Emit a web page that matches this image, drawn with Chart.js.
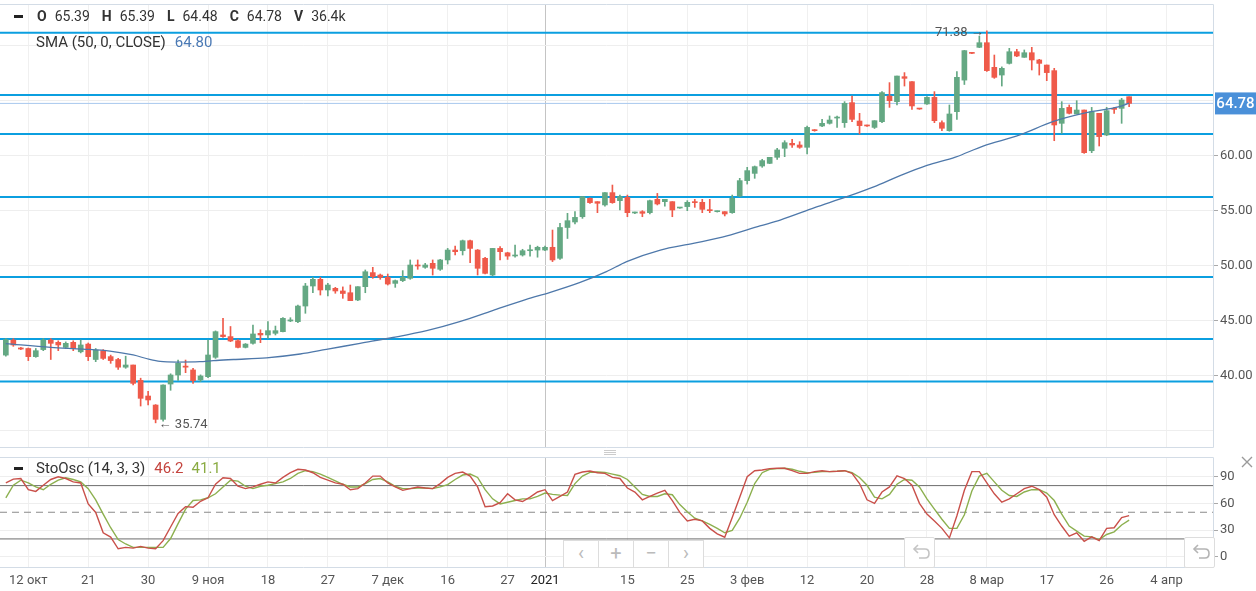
<!DOCTYPE html>
<html>
<head>
<meta charset="utf-8">
<script src="https://cdn.jsdelivr.net/npm/chart.js@4.4.0/dist/chart.umd.min.js"></script>
<style>
body { margin: 0; background: #fff; font-family: Roboto, sans-serif; overflow: hidden; }
#wrap { position: relative; width: 1256px; height: 591px; }
canvas { position: absolute; left: 0; }
#main { top: 0; }
#osc { top: 450px; }
.leg { position: absolute; color: #333; font-size: 15px; white-space: nowrap; z-index: 5; }
.hdr { font-size: 14px; }
.hdr b { font-weight: 700; margin-right: 8px; }
.hdr span.v { margin-right: 12px; }
.dash { position: absolute; width: 9px; height: 3px; background: #222; z-index: 5; }
.nav { position: absolute; left: 563px; top: 540px; width: 139px; height: 26px; border: 1px solid #ddd; background: #fff; display: flex; z-index: 5; }
.nav div { flex: 1; border-left: 1px solid #ddd; color: #bbb; font-size: 20px; text-align: center; line-height: 25px; }
.nav div:first-child { border-left: none; }
.undo { position: absolute; width: 29px; height: 29px; border: 1px solid #ddd; background: #fff; z-index: 5; border-radius: 2px; }
.handle { position: absolute; left: 604px; width: 12px; height: 1px; background: #ccc; z-index: 5; }
</style>
</head>
<body>
<div id="wrap">
  <canvas id="main" width="1256" height="450"></canvas>
  <canvas id="osc" width="1256" height="141"></canvas>

  <div class="dash" style="left:14px;top:15px"></div>
  <div class="leg hdr" style="left:37px;top:8px">
    <b>O</b><span class="v">65.39</span><b>H</b><span class="v">65.39</span><b>L</b><span class="v">64.48</span><b>C</b><span class="v">64.78</span><b>V</b><span>36.4k</span>
  </div>
  <div class="leg" style="left:36px;top:33px">SMA (50, 0, CLOSE)<span style="color:#4a79b4;margin-left:9px">64.80</span></div>

  <div class="dash" style="left:14px;top:467px"></div>
  <div class="leg" style="left:36px;top:459px">StoOsc (14, 3, 3)<span style="color:#c4443e;margin-left:9px">46.2</span><span style="color:#8aab42;margin-left:8px">41.1</span></div>

  <div class="handle" style="top:450px"></div>
  <div class="handle" style="top:452px"></div>
  <div class="handle" style="top:454px"></div>

  <svg style="position:absolute;left:1240px;top:455px;z-index:5" width="14" height="14"><path d="M2 2 L12 12 M12 2 L2 12" stroke="#9a9a9a" stroke-width="1.4"/></svg>

  <div class="nav"><div>&#8249;</div><div>+</div><div>&#8722;</div><div>&#8250;</div></div>
  <div class="undo" style="left:904px;top:537px"><svg width="29" height="29"><path d="M10 11 L20 11 Q24 11 24 15.5 Q24 20 20 20 L14 20" fill="none" stroke="#c4c4c4" stroke-width="1.6"/><path d="M13 7 L9 11 L13 15" fill="none" stroke="#c4c4c4" stroke-width="1.6"/></svg></div>
  <div class="undo" style="left:1184px;top:537px"><svg width="29" height="29"><path d="M10 11 L20 11 Q24 11 24 15.5 Q24 20 20 20 L14 20" fill="none" stroke="#b4b4b4" stroke-width="1.6"/><path d="M13 7 L9 11 L13 15" fill="none" stroke="#b4b4b4" stroke-width="1.6"/></svg></div>
</div>

<script>
// свечи: O, H, L, C по дням (индекс = номер торгового дня)
var opens = [41.9,43.27,42.55,42.5,41.76,42.4,43.27,43.06,42.6,43.06,42.2,42.9,41.5,42.3,41.76,41.5,40.8,41.0,39.6,38.18,
  37.36,36.06,39.27,40.09,40.9,40.55,39.64,39.94,41.7,43.73,43.58,43.21,42.6,42.97,43.88,43.73,43.88,44.03,45.0,44.94,
  46.36,48.18,48.79,47.82,47.97,47.73,47.57,46.91,48.12,49.4,49.18,48.97,48.42,48.67,48.88,50.09,49.88,50.24,49.7,50.55,
  51.45,51.39,52.3,51.45,50.7,49.18,51.6,51.2,50.91,51.0,51.39,51.45,51.45,51.7,50.7,53.5,54.0,54.48,56.15,55.85,
  55.55,56.67,55.94,56.24,54.82,54.94,54.85,56.06,55.85,55.85,55.27,55.4,55.85,55.79,55.09,54.94,54.94,54.85,56.36,57.76,
  58.42,59.09,59.33,59.88,60.7,61.15,61.0,60.79,62.36,62.73,62.97,63.45,63.03,64.85,63.18,62.79,62.6,63.12,65.45,64.94,
  67.21,66.76,64.3,64.73,65.33,63.03,62.3,64.03,66.9,69.36,69.88,70.3,68.06,67.36,68.42,69.48,68.97,69.39,68.73,68.27,
  67.76,62.97,64.42,63.82,64.18,60.48,63.88,61.91,64.33,64.33,65.39];
var highs = [43.4,43.4,42.6,42.55,42.5,43.4,43.4,43.2,43.1,43.2,43.27,43.0,42.5,42.4,41.9,41.6,41.8,41.0,39.8,38.6,
  37.4,39.2,40.2,41.45,41.45,40.7,40.1,43.27,44.1,45.24,44.5,43.3,42.95,44.64,44.2,44.94,44.54,45.3,45.3,46.45,
  48.42,48.97,48.97,48.42,48.06,48.1,48.27,48.12,49.64,49.88,49.27,49.27,48.73,49.58,50.55,50.55,50.24,50.55,50.6,51.6,
  51.8,52.36,52.36,51.5,50.79,51.6,51.76,51.25,51.9,51.52,51.9,51.8,51.8,53.27,53.88,54.79,54.94,56.3,56.2,55.85,
  56.67,57.36,56.45,56.45,54.9,55.03,56.0,56.6,56.06,55.85,55.33,55.94,56.06,56.06,56.06,55.0,54.94,56.45,57.97,58.97,
  59.09,59.7,59.88,60.7,61.39,61.52,61.3,62.73,62.4,63.33,63.64,63.64,64.94,65.45,63.88,62.82,63.21,65.85,66.67,67.27,
  67.58,66.76,64.3,65.4,65.85,63.2,64.64,67.67,69.6,69.4,70.9,71.38,69.18,68.1,69.79,69.7,69.64,69.88,68.79,68.27,
  67.97,64.94,64.64,65.03,64.18,64.42,63.88,64.42,64.42,65.24,65.39];
var lows = [41.8,42.7,42.4,41.4,41.7,42.3,41.5,42.3,42.5,42.3,42.1,41.4,41.3,41.5,41.15,40.6,40.7,39.2,37.27,37.36,
  35.74,35.9,38.7,39.6,40.3,39.33,39.5,39.85,41.6,43.5,43.12,42.55,42.55,42.9,43.03,43.42,43.73,44.0,44.94,44.85,
  45.7,47.57,47.36,47.27,47.52,47.06,46.85,46.85,47.57,48.88,48.79,48.27,48.06,48.58,48.79,49.7,49.79,49.18,49.6,50.18,
  51.0,51.0,50.3,49.18,49.27,49.1,50.55,50.6,50.8,50.9,50.9,50.8,51.4,50.4,50.6,52.5,53.82,54.33,55.7,54.85,
  55.45,55.7,55.09,54.48,54.75,54.48,54.73,55.55,55.45,54.48,55.24,55.03,55.33,54.85,54.85,54.9,54.55,54.79,56.3,57.45,
  57.97,58.97,59.3,59.7,59.94,60.79,60.7,60.18,62.25,62.67,62.9,62.6,62.6,63.12,62.0,62.7,62.5,63.03,64.42,64.64,
  66.36,64.24,64.24,64.7,63.03,62.3,62.25,63.33,66.5,69.3,69.85,67.7,67.06,66.36,68.36,69.03,68.97,67.82,67.36,66.85,
  61.39,62.06,63.82,63.82,60.24,60.3,60.91,61.85,63.88,62.97,64.48];
var closes = [43.3,42.82,42.45,41.76,42.3,43.27,42.97,42.82,42.97,42.5,42.82,41.76,42.36,41.6,41.4,40.8,41.0,39.33,37.97,37.82,
  36.06,39.18,40.09,41.15,40.8,39.58,40.0,41.91,44.03,43.58,43.18,42.6,42.9,43.82,43.73,44.12,44.12,45.24,45.1,46.36,
  48.18,48.79,47.82,48.27,47.73,47.5,46.85,48.12,49.48,49.03,48.97,48.36,48.67,48.97,50.09,50.0,50.09,49.79,50.55,51.45,
  51.3,52.3,51.6,49.79,49.33,51.6,51.3,50.9,51.0,51.39,51.45,51.7,51.7,50.55,53.5,54.12,54.42,56.3,55.76,55.7,
  56.67,55.76,56.3,54.85,54.85,54.79,55.94,55.64,56.06,55.09,55.3,55.79,55.76,55.15,55.03,54.97,54.73,56.15,57.76,58.67,
  59.03,59.58,59.88,60.55,61.21,61.0,60.79,62.6,62.3,62.97,63.27,63.5,64.79,63.33,62.76,62.73,63.21,65.76,65.03,67.27,
  67.06,64.55,64.27,65.33,63.21,62.52,63.82,67.15,69.58,69.33,70.3,67.76,67.15,67.97,69.48,69.09,69.39,68.73,68.42,67.58,
  62.82,64.33,63.88,64.18,60.3,64.03,61.76,64.12,64.24,65.09,64.78];

// SMA(50) — точки
var smaIdx = [0,6,10.3,13.9,17,19.2,20.6,22.8,25.9,27.7,30.4,34.8,39.3,42.8,47.3,51.7,56.2,60.6,65,69.5,72.6,76.6,80.2,82.9,87.4,91.8,96.3,100.7,103.4,108,112.3,115.9,119.5,123,126.8,130.5,135.4,139.8,144.3,148.7,150];
var smaVal = [42.95,42.6,42.45,42.27,41.91,41.51,41.33,41.27,41.3,41.4,41.5,41.65,42.0,42.42,42.97,43.5,44.12,44.94,45.95,46.97,47.58,48.48,49.48,50.4,51.45,52.06,52.73,53.64,54.18,55.3,56.3,57.2,58.24,59.15,59.9,60.9,61.91,63.12,63.94,64.48,64.8];

// Стохастик %K и %D
var stochK = [83,87.3,88,75.4,73.5,80.4,86.9,90,88,84.2,83,59.4,49.8,26.9,22,8.9,10.5,9.7,11.6,9.7,
  8.9,18.1,33.4,48.7,56.3,55.6,62.4,66.3,81.5,88.8,88,79.3,76.6,78.5,81.5,84.2,83,89.2,94.5,98.4,
  97.6,94.5,89.2,86.1,83,81.5,75.4,76.6,83,90.7,90.7,83,78.5,74.7,76.6,78.5,77.3,76.6,82.3,89.2,
  93.8,95.3,90.7,78.5,56.3,57.1,60.9,70.8,64,62.1,67,72.8,75.4,63.2,67.8,72.8,92.6,95.3,96.5,94.5,
  93.8,89.2,88,77.3,72.8,64,67.8,71.6,74.7,63.2,49.8,40.3,42.2,40.3,31.9,25.7,21.9,44,67,90,
  96.8,97.6,99.1,99.5,99.5,96.8,93.8,93.8,95.7,96.8,95.7,96.1,96.8,93.8,82.3,64,60.1,72.8,78.5,91.1,
  88,80.4,60.1,47.9,40.3,31.9,21.2,46,74.7,95.7,95.7,83,70.8,61.3,65.1,70.8,76.6,79.3,75.4,67,
  47.2,34.5,23.1,26.9,17.3,22.3,18.1,31.9,32.6,44.1,46.2];
var stochD = [66.3,80.4,86.1,83,78.5,75.4,81.5,86.1,88.8,86.9,84.2,76.6,64,47.9,32.6,19.3,14.3,10.5,10.5,10.5,
  10.5,10.5,20.4,37.2,53.6,63.2,64,66.3,70.8,78.5,86.1,85,79.3,76.6,79.3,80.4,82.3,84.2,88,93.8,
  96.8,95.7,93,89.2,85.4,81.5,78.5,78.5,82.3,86.9,88,84.2,79.3,76.6,76.6,77.3,77.3,76.6,78.5,81.2,
  86.9,91.9,93,89.2,75.4,65.1,59.4,61.3,63.2,65.1,65.1,67.8,71.6,70.1,69.3,68.9,82.3,90.7,94.9,95.3,
  94.9,93,91.1,86.9,78.5,70.1,67.8,67.8,70.8,69.7,58.6,50.6,43.3,40.3,36.4,31.9,26.9,29.6,43.3,61.3,
  82.3,94.5,98.4,99.1,99.5,98.4,96.1,94.5,94.9,95.7,95.7,96.1,96.8,94.5,89.2,80.4,67,65.1,70.1,81.5,
  86.9,86.1,78.5,65.1,53.6,42.2,31.9,31.9,47.2,73.9,90.7,93.8,84.2,74.7,68.9,67.8,72.8,75.4,75.4,71.6,
  63.2,47.9,34.5,28.8,23.1,22.3,19.2,25,28,35.7,41.1];

// горизонтальные уровни и подписи осей
var levels = [71.2, 65.55, 62.0, 56.27, 49.0, 43.36, 39.5];
var lastPrice = 64.78;
var tickIdx = [3,11,19,27,35,43,51,59,67,72,83,91,99,107,115,123,131,139,147,155];
var tickText = ['12 окт','21','30','9 ноя','18','27','7 дек','16','27','2021','15','25','3 фев','12','20','28','8 мар','17','26','4 апр'];
var priceTicks = [35,40,45,50,55,60,65,70];
var priceLabels = [40,45,50,55,60];
var oscTicks = [0,30,60,90];
var oscLevels = [80,20];
var oscMid = 50;

var xMin = -0.78, xMax = 161.2;
var yearIdx = tickIdx[tickText.indexOf('2021')];
var upColor = '#64a883', downColor = '#ef5a4a';
var frameColor = '#d3dce6';

function gridX(c) { return c.tick && c.tick.value === yearIdx ? '#c4c4c4' : '#f0f0f0'; }
function candleColor(c) { var i = c.dataIndex; return closes[i] >= opens[i] ? upColor : downColor; }
function hLine(v) { return [{ x: xMin, y: v }, { x: xMax, y: v }]; }
// убираем автоматические отступы под подписи, чтобы область графика была точной
function noPadY(w) { return function (s) { s.width = w; s.paddingTop = 0; s.paddingBottom = 0; }; }
function noPadX(h) { return function (s) { s.height = h; s.paddingLeft = 0; s.paddingRight = 0; }; }

var frame = {
    id: 'frame',
    afterDraw: function (chart) {
        var a = chart.chartArea, ctx = chart.ctx;
        ctx.save();
        ctx.strokeStyle = frameColor;
        ctx.lineWidth = 1;
        ctx.beginPath();
        ctx.moveTo(0, a.top + 0.5); ctx.lineTo(a.right + 0.5, a.top + 0.5);
        ctx.lineTo(a.right + 0.5, a.bottom + 0.5); ctx.lineTo(0, a.bottom + 0.5);
        ctx.stroke();
        ctx.restore();
    }
};

var marks = {
    id: 'marks',
    afterDraw: function (chart) {
        var ctx = chart.ctx, x = chart.scales.x, y = chart.scales.y;
        var hi = highs.indexOf(Math.max.apply(null, highs));
        var lo = lows.indexOf(Math.min.apply(null, lows));
        ctx.save();
        ctx.font = '13px Roboto';
        ctx.fillStyle = '#555';
        ctx.textBaseline = 'middle';
        ctx.textAlign = 'right';
        ctx.fillText(highs[hi].toFixed(2) + ' \u2192', x.getPixelForValue(hi) - 3, y.getPixelForValue(highs[hi]) + 2);
        ctx.textAlign = 'left';
        ctx.fillText('\u2190 ' + lows[lo].toFixed(2), x.getPixelForValue(lo) + 3, y.getPixelForValue(lows[lo]) + 1.5);
        // метка последней цены
        var py = y.getPixelForValue(lastPrice);
        var a = chart.chartArea;
        ctx.fillStyle = '#4a90d9';
        ctx.fillRect(a.right + 2, py - 11, chart.width - a.right - 2, 22);
        ctx.fillStyle = '#fff';
        ctx.font = '500 15px Roboto';
        ctx.textAlign = 'center';
        ctx.fillText(lastPrice.toFixed(2), (a.right + 2 + chart.width) / 2, py + 1);
        ctx.restore();
    }
};

var datasets = [];
levels.forEach(function (v) {
    datasets.push({ type: 'line', data: hLine(v), borderColor: '#0b9fe0', borderWidth: 2, pointRadius: 0, order: 10 });
});
datasets.push({ type: 'line', data: hLine(lastPrice), borderColor: '#a9c9ee', borderWidth: 1, pointRadius: 0, order: 9 });
datasets.push({
    type: 'bar', data: opens.map(function (o, i) { return { x: i, y: [lows[i], highs[i]] }; }),
    backgroundColor: candleColor, barThickness: 1, maxBarThickness: 1, grouped: false, order: 4
});
datasets.push({
    type: 'bar', data: opens.map(function (o, i) { return { x: i, y: [o, closes[i]] }; }),
    backgroundColor: candleColor, barThickness: 5, maxBarThickness: 5, minBarLength: 1, grouped: false, order: 3
});
datasets.push({
    type: 'line', data: smaIdx.map(function (v, i) { return { x: v, y: smaVal[i] }; }),
    borderColor: '#4e78aa', borderWidth: 1.3, pointRadius: 0, cubicInterpolationMode: 'monotone', order: 1
});

new Chart(document.getElementById('main').getContext('2d'), {
    type: 'bar',
    data: { datasets: datasets },
    options: {
        responsive: false,
        animation: false,
        layout: { padding: { top: 4, bottom: 3, left: 0, right: 0 } },
        plugins: { legend: { display: false }, tooltip: { enabled: false } },
        scales: {
            x: {
                type: 'linear', min: xMin, max: xMax, offset: false,
                afterBuildTicks: function (s) { s.ticks = tickIdx.map(function (v) { return { value: v }; }); },
                ticks: { display: false },
                grid: { color: gridX, drawTicks: false, offset: false },
                border: { display: false },
                afterFit: noPadX(0)
            },
            y: {
                position: 'right', min: 33.545, max: 73.818,
                afterBuildTicks: function (s) { s.ticks = priceTicks.map(function (v) { return { value: v }; }); },
                ticks: {
                    callback: function (v) { return priceLabels.indexOf(v) >= 0 ? v.toFixed(2) : ''; },
                    color: '#555', font: { size: 13, family: 'Roboto' }, padding: 2
                },
                grid: {
                    color: '#eeeeee', tickLength: 5,
                    tickColor: function (c) { return c.tick && priceLabels.indexOf(c.tick.value) >= 0 ? '#aaa' : 'rgba(0,0,0,0)'; }
                },
                border: { display: false },
                afterFit: noPadY(43)
            }
        }
    },
    plugins: [frame, marks]
});

var oscSets = [];
oscLevels.forEach(function (v) {
    oscSets.push({ data: hLine(v), borderColor: '#6d6d6d', borderWidth: 1, pointRadius: 0, order: 10 });
});
oscSets.push({ data: hLine(oscMid), borderColor: '#8a8a8a', borderWidth: 1.2, borderDash: [7, 5], pointRadius: 0, order: 10 });
oscSets.push({ data: stochD.map(function (v, i) { return { x: i, y: v }; }), borderColor: '#8cb04f', borderWidth: 1.4, pointRadius: 0, order: 2 });
oscSets.push({ data: stochK.map(function (v, i) { return { x: i, y: v }; }), borderColor: '#c9504a', borderWidth: 1.4, pointRadius: 0, order: 1 });

new Chart(document.getElementById('osc').getContext('2d'), {
    type: 'line',
    data: { datasets: oscSets },
    options: {
        responsive: false,
        animation: false,
        layout: { padding: { top: 7, bottom: 0, left: 0, right: 0 } },
        plugins: { legend: { display: false }, tooltip: { enabled: false } },
        scales: {
            x: {
                type: 'linear', min: xMin, max: xMax,
                afterBuildTicks: function (s) { s.ticks = tickIdx.map(function (v) { return { value: v }; }); },
                ticks: {
                    callback: function (v) { return tickText[tickIdx.indexOf(v)]; },
                    color: function (c) { return c.tick && c.tick.value === yearIdx ? '#222' : '#555'; },
                    font: { size: 13, family: 'Roboto' }, padding: 6, maxRotation: 0, autoSkip: false
                },
                grid: { color: gridX, drawTicks: false },
                border: { display: false },
                afterFit: noPadX(24)
            },
            y: {
                position: 'right', min: -11.6, max: 112.2,
                afterBuildTicks: function (s) { s.ticks = oscTicks.map(function (v) { return { value: v }; }); },
                ticks: { color: '#555', font: { size: 13, family: 'Roboto' }, padding: 2 },
                grid: { color: '#eeeeee', tickLength: 5, tickColor: '#aaa' },
                border: { display: false },
                afterFit: noPadY(43)
            }
        }
    },
    plugins: [frame]
});
</script>
</body>
</html>
